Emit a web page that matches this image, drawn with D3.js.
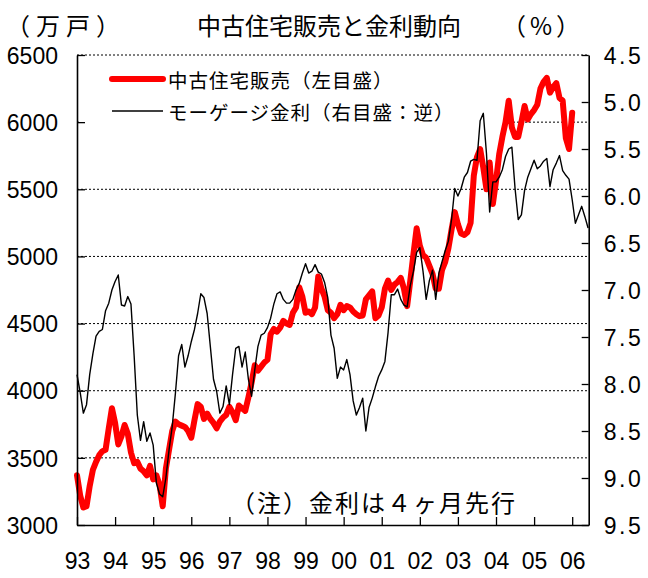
<!DOCTYPE html>
<html><head><meta charset="utf-8">
<script src="https://cdn.jsdelivr.net/npm/d3@7"></script>
<style>
html,body{margin:0;padding:0;background:#fff;}
svg{display:block;}
</style></head>
<body>
<svg id="chart" width="648" height="578"></svg>
<script>
// ---------- data ----------
const startYear = 1993;           // first month = Jan 1993
const yearLabels = ["93","94","95","96","97","98","99","00","01","02","03","04","05","06"];
const leftTicks = [3000,3500,4000,4500,5000,5500,6000,6500];
const rightTicks = [4.5,5.0,5.5,6.0,6.5,7.0,7.5,8.0,8.5,9.0,9.5];

// 中古住宅販売 (万戸), monthly from Jan 1993
const sales = [
 3370,3220,3130,3140,3290,3410,3470,3520,3550,3560,3720,3870,
 3760,3600,3660,3745,3680,3540,3460,3470,3420,3400,3370,3440,
 3340,3370,3300,3140,3420,3560,3700,3770,3750,3740,3730,3700,
 3650,3780,3900,3880,3790,3830,3790,3760,3720,3770,3800,3820,
 3880,3840,3780,3890,3870,3850,3950,4060,4190,4150,4180,4210,
 4230,4420,4460,4440,4470,4520,4500,4490,4580,4620,4770,4700,
 4580,4590,4570,4620,4850,4760,4700,4600,4580,4540,4570,4640,
 4600,4630,4620,4590,4570,4555,4560,4680,4710,4740,4540,4560,
 4620,4760,4820,4750,4790,4810,4840,4760,4630,4820,5020,5210,
 5080,5010,4990,4930,4870,4760,4760,4900,4960,5060,5200,5330,
 5240,5170,5160,5180,5250,5600,5740,5800,5660,5500,5700,5390,
 5560,5760,5890,6000,6160,5960,5890,5890,6000,6120,6020,6060,
 6090,6130,6250,6300,6330,6220,6260,6290,6180,6160,5880,5800,
 6070
];

// モーゲージ金利 (%), 4ヶ月先行, monthly from Jan 1993
const rate = [
 7.90,8.09,8.31,8.22,7.90,7.68,7.49,7.44,7.42,7.22,7.14,7.00,
 6.91,6.84,7.16,7.17,7.07,7.15,7.70,8.33,8.60,8.40,8.61,8.52,
 8.65,9.05,9.17,9.20,9.00,8.70,8.45,8.10,7.70,7.58,7.82,7.70,
 7.55,7.42,7.25,7.04,7.08,7.25,7.60,7.95,8.08,8.31,8.24,8.02,
 8.22,7.90,7.62,7.60,7.82,7.66,7.95,8.13,7.85,7.60,7.48,7.46,
 7.40,7.30,7.15,7.04,7.02,7.10,7.14,7.14,7.10,7.00,6.93,6.82,
 6.72,6.82,6.80,6.73,6.81,6.83,6.92,7.08,7.48,7.62,7.94,7.82,
 7.85,7.74,7.90,8.18,8.33,8.25,8.15,8.50,8.25,8.15,8.03,7.92,
 7.85,7.76,7.45,7.05,7.05,6.99,7.10,7.16,7.18,6.95,6.80,6.60,
 6.55,6.80,7.10,6.90,6.79,7.10,6.82,6.70,6.58,6.48,6.25,5.92,
 6.00,5.92,5.80,5.75,5.63,5.61,5.62,5.20,5.12,5.55,6.17,5.85,
 5.85,5.80,5.72,5.58,5.50,5.48,5.92,6.25,6.20,5.94,5.80,5.71,
 5.62,5.71,5.68,5.63,5.60,5.90,5.72,5.65,5.57,5.73,5.78,5.82,
 6.04,6.29,6.20,6.11,6.22,6.34
];

const legendLabels = ["中古住宅販売（左目盛）","モーゲージ金利（右目盛：逆）"];
const titleText = "中古住宅販売と金利動向";
const leftUnit = "（万戸）";
const rightUnit = "（%）";
const noteText = "（注）金利は４ヶ月先行";

// ---------- layout ----------
const L = 77, R = 588.7, T = 55, B = 525;
const svg = d3.select("#chart");
const numFont = "'Liberation Sans', Arial, sans-serif";
const jpFont = "'Noto Sans CJK JP', 'Noto Sans', sans-serif";

const x = d3.scaleLinear().domain([0, 161.2]).range([L, R]);
const yL = d3.scaleLinear().domain([3000, 6500]).range([B, T]);
const yR = d3.scaleLinear().domain([4.5, 9.5]).range([T, B]);

// gridlines (dotted)
svg.append("g").selectAll("line")
  .data(leftTicks.filter(v => v > 3000))
  .join("line")
  .attr("x1", L).attr("x2", R)
  .attr("y1", d => yL(d)).attr("y2", d => yL(d))
  .attr("stroke", "#000").attr("stroke-width", 1)
  .attr("stroke-dasharray", "2,2");

// legend background (white, hides grid)
svg.append("rect").attr("x", L + 2).attr("y", 62).attr("width", 432).attr("height", 68)
  .attr("fill", "#fff");

// lines
const lineL = d3.line().x((d, i) => x(i)).y(d => yL(d)).curve(d3.curveLinear);
const lineR = d3.line().x((d, i) => x(i)).y(d => yR(d)).curve(d3.curveLinear);

svg.append("path").datum(sales).attr("d", lineL)
  .attr("fill", "none").attr("stroke", "#ff0000").attr("stroke-width", 6)
  .attr("stroke-linejoin", "round").attr("stroke-linecap", "round");
svg.append("path").datum(rate).attr("d", lineR)
  .attr("fill", "none").attr("stroke", "#000").attr("stroke-width", 1.4)
  .attr("stroke-linejoin", "round");

// axes
const axL = svg.append("g").attr("transform", `translate(${L},0)`)
  .call(d3.axisLeft(yL).tickValues(leftTicks).tickSize(-8).tickSizeOuter(0).tickPadding(19).tickFormat(d3.format("d")));
const axR = svg.append("g").attr("transform", `translate(${R},0)`)
  .call(d3.axisRight(yR).tickValues(rightTicks).tickSize(-7).tickSizeOuter(0).tickPadding(15).tickFormat(d3.format(".1f")));
const yearIdx = yearLabels.map((s, i) => i * 12);
const axB = svg.append("g").attr("transform", `translate(0,${B})`)
  .call(d3.axisBottom(x).tickValues(yearIdx).tickSize(-8).tickSizeOuter(0).tickPadding(28).tickFormat((d, i) => yearLabels[i]));

[axL, axR, axB].forEach(g => {
  g.select(".domain").attr("stroke", "#000").attr("stroke-width", 1.6);
  g.selectAll(".tick line").attr("stroke", "#000").attr("stroke-width", 1.3);
  g.selectAll(".tick text").attr("fill", "#000").style("font-family", numFont).style("font-size", "23px");
});
axR.selectAll(".tick text").style("letter-spacing", "2.5px");
axL.selectAll(".tick text").attr("dy", "0.36em");
axR.selectAll(".tick text").attr("dy", "0.36em");

// titles
svg.append("text").attr("x", 329).attr("y", 24).attr("text-anchor", "middle")
  .attr("dominant-baseline", "central")
  .style("font-family", jpFont).style("font-size", "24px").attr("fill", "#000").text(titleText);
svg.append("text").attr("x", 6).attr("y", 24).attr("dominant-baseline", "central")
  .style("font-family", jpFont).style("font-size", "24px").style("letter-spacing", "6px")
  .attr("fill", "#000").text(leftUnit);
svg.append("text").attr("x", 502).attr("y", 24).attr("dominant-baseline", "central")
  .style("font-family", jpFont).style("font-size", "24px").style("letter-spacing", "4px")
  .attr("fill", "#000").text(rightUnit);

// legend
const legY = [79, 111];
const legStyle = [{c: "#ff0000", w: 6}, {c: "#000", w: 1.4}];
legendLabels.forEach((lab, i) => {
  svg.append("line").attr("x1", 112).attr("x2", 163).attr("y1", legY[i]).attr("y2", legY[i])
    .attr("stroke", legStyle[i].c).attr("stroke-width", legStyle[i].w).attr("stroke-linecap", i === 0 ? "round" : "butt");
  svg.append("text").attr("x", 168).attr("y", legY[i]).attr("dominant-baseline", "central")
    .style("font-family", jpFont).style("font-size", "19.5px").style("letter-spacing", "1px")
    .attr("fill", "#000").text(lab);
});

// note
svg.append("text").attr("x", 231).attr("y", 501).attr("dominant-baseline", "central")
  .style("font-family", jpFont).style("font-size", "24px").style("letter-spacing", "2px")
  .attr("fill", "#000").text(noteText);
</script>
</body></html>
